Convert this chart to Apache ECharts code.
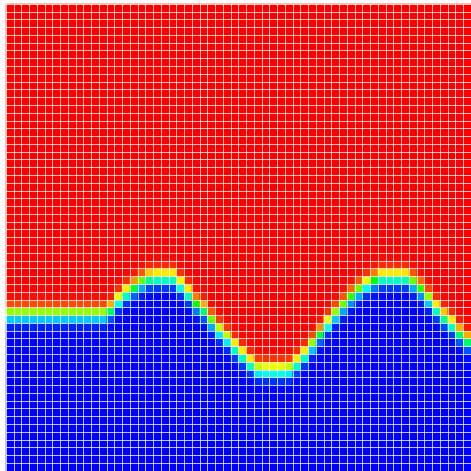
<!DOCTYPE html>
<html>
<head>
<meta charset="utf-8">
<script src="https://cdn.jsdelivr.net/npm/echarts@6/dist/echarts.min.js"></script>
<style>
  html, body { margin: 0; padding: 0; background: #fff; }
  #chart { width: 471px; height: 471px; }
</style>
</head>
<body>
<div id="chart"></div>
<script>
// grid of 60 x 60 cells
const nCols = 60;
const nRows = 60;

// height of the red/blue interface per column (in rows, counted from the bottom)
const interfaceHeight = [
  20.2, 20.2, 20.2, 20.2, 20.2, 20.2, 20.2, 20.2, 20.2, 20.2,
  20.2, 20.2, 20.2, 20.7, 22.0, 22.9, 23.6, 24.3, 24.8, 24.9,
  24.9, 24.9, 24.0, 22.9, 21.5, 20.7, 19.3, 18.1, 17.1, 15.9,
  14.9, 13.9, 13.1, 13.0, 13.0, 13.0, 13.1, 13.9, 14.9, 16.2,
  17.6, 19.0, 20.2, 21.3, 22.4, 23.3, 24.0, 24.5, 24.9, 24.9,
  24.9, 24.9, 24.3, 23.4, 22.2, 20.9, 19.8, 18.9, 17.7, 16.7
];
// thickness of the diffuse band (rows)
const bandWidth = 1.0;

const xCats = [];
for (let i = 0; i < nCols; i++) xCats.push(String(i));
const yCats = [];
for (let j = 0; j < nRows; j++) yCats.push(String(j));

const colorRamp = ['#0000ff', '#00ffff', '#00ff00', '#ffff00', '#ff0000'];

// cell value: 1 above the interface (red), 0 below (blue)
const cells = [];
for (let i = 0; i < nCols; i++) {
  for (let j = 0; j < nRows; j++) {
    const d = (j + 0.5 - interfaceHeight[i]) / bandWidth;
    cells.push([i, j, 0.5 + 0.5 * Math.tanh(d)]);
  }
}

const gridLine = {
  show: true,
  interval: 0,
  lineStyle: { color: 'rgba(255,255,255,0.75)', width: 1 }
};

const chart = echarts.init(document.getElementById('chart'));
chart.setOption({
  animation: false,
  grid: { left: 6, right: 0, top: 4, bottom: 0 },
  xAxis: {
    type: 'category',
    data: xCats,
    z: 10,
    axisLine: { show: false },
    axisTick: { show: false },
    axisLabel: { show: false },
    splitLine: gridLine
  },
  yAxis: {
    type: 'category',
    data: yCats,
    z: 10,
    axisLine: { show: false },
    axisTick: { show: false },
    axisLabel: { show: false },
    splitLine: gridLine
  },
  visualMap: {
    show: false,
    min: 0,
    max: 1,
    calculable: false,
    inRange: { color: colorRamp }
  },
  series: [{
    type: 'heatmap',
    data: cells,
    progressive: 0,
    emphasis: { disabled: true }
  }]
});
</script>
</body>
</html>
